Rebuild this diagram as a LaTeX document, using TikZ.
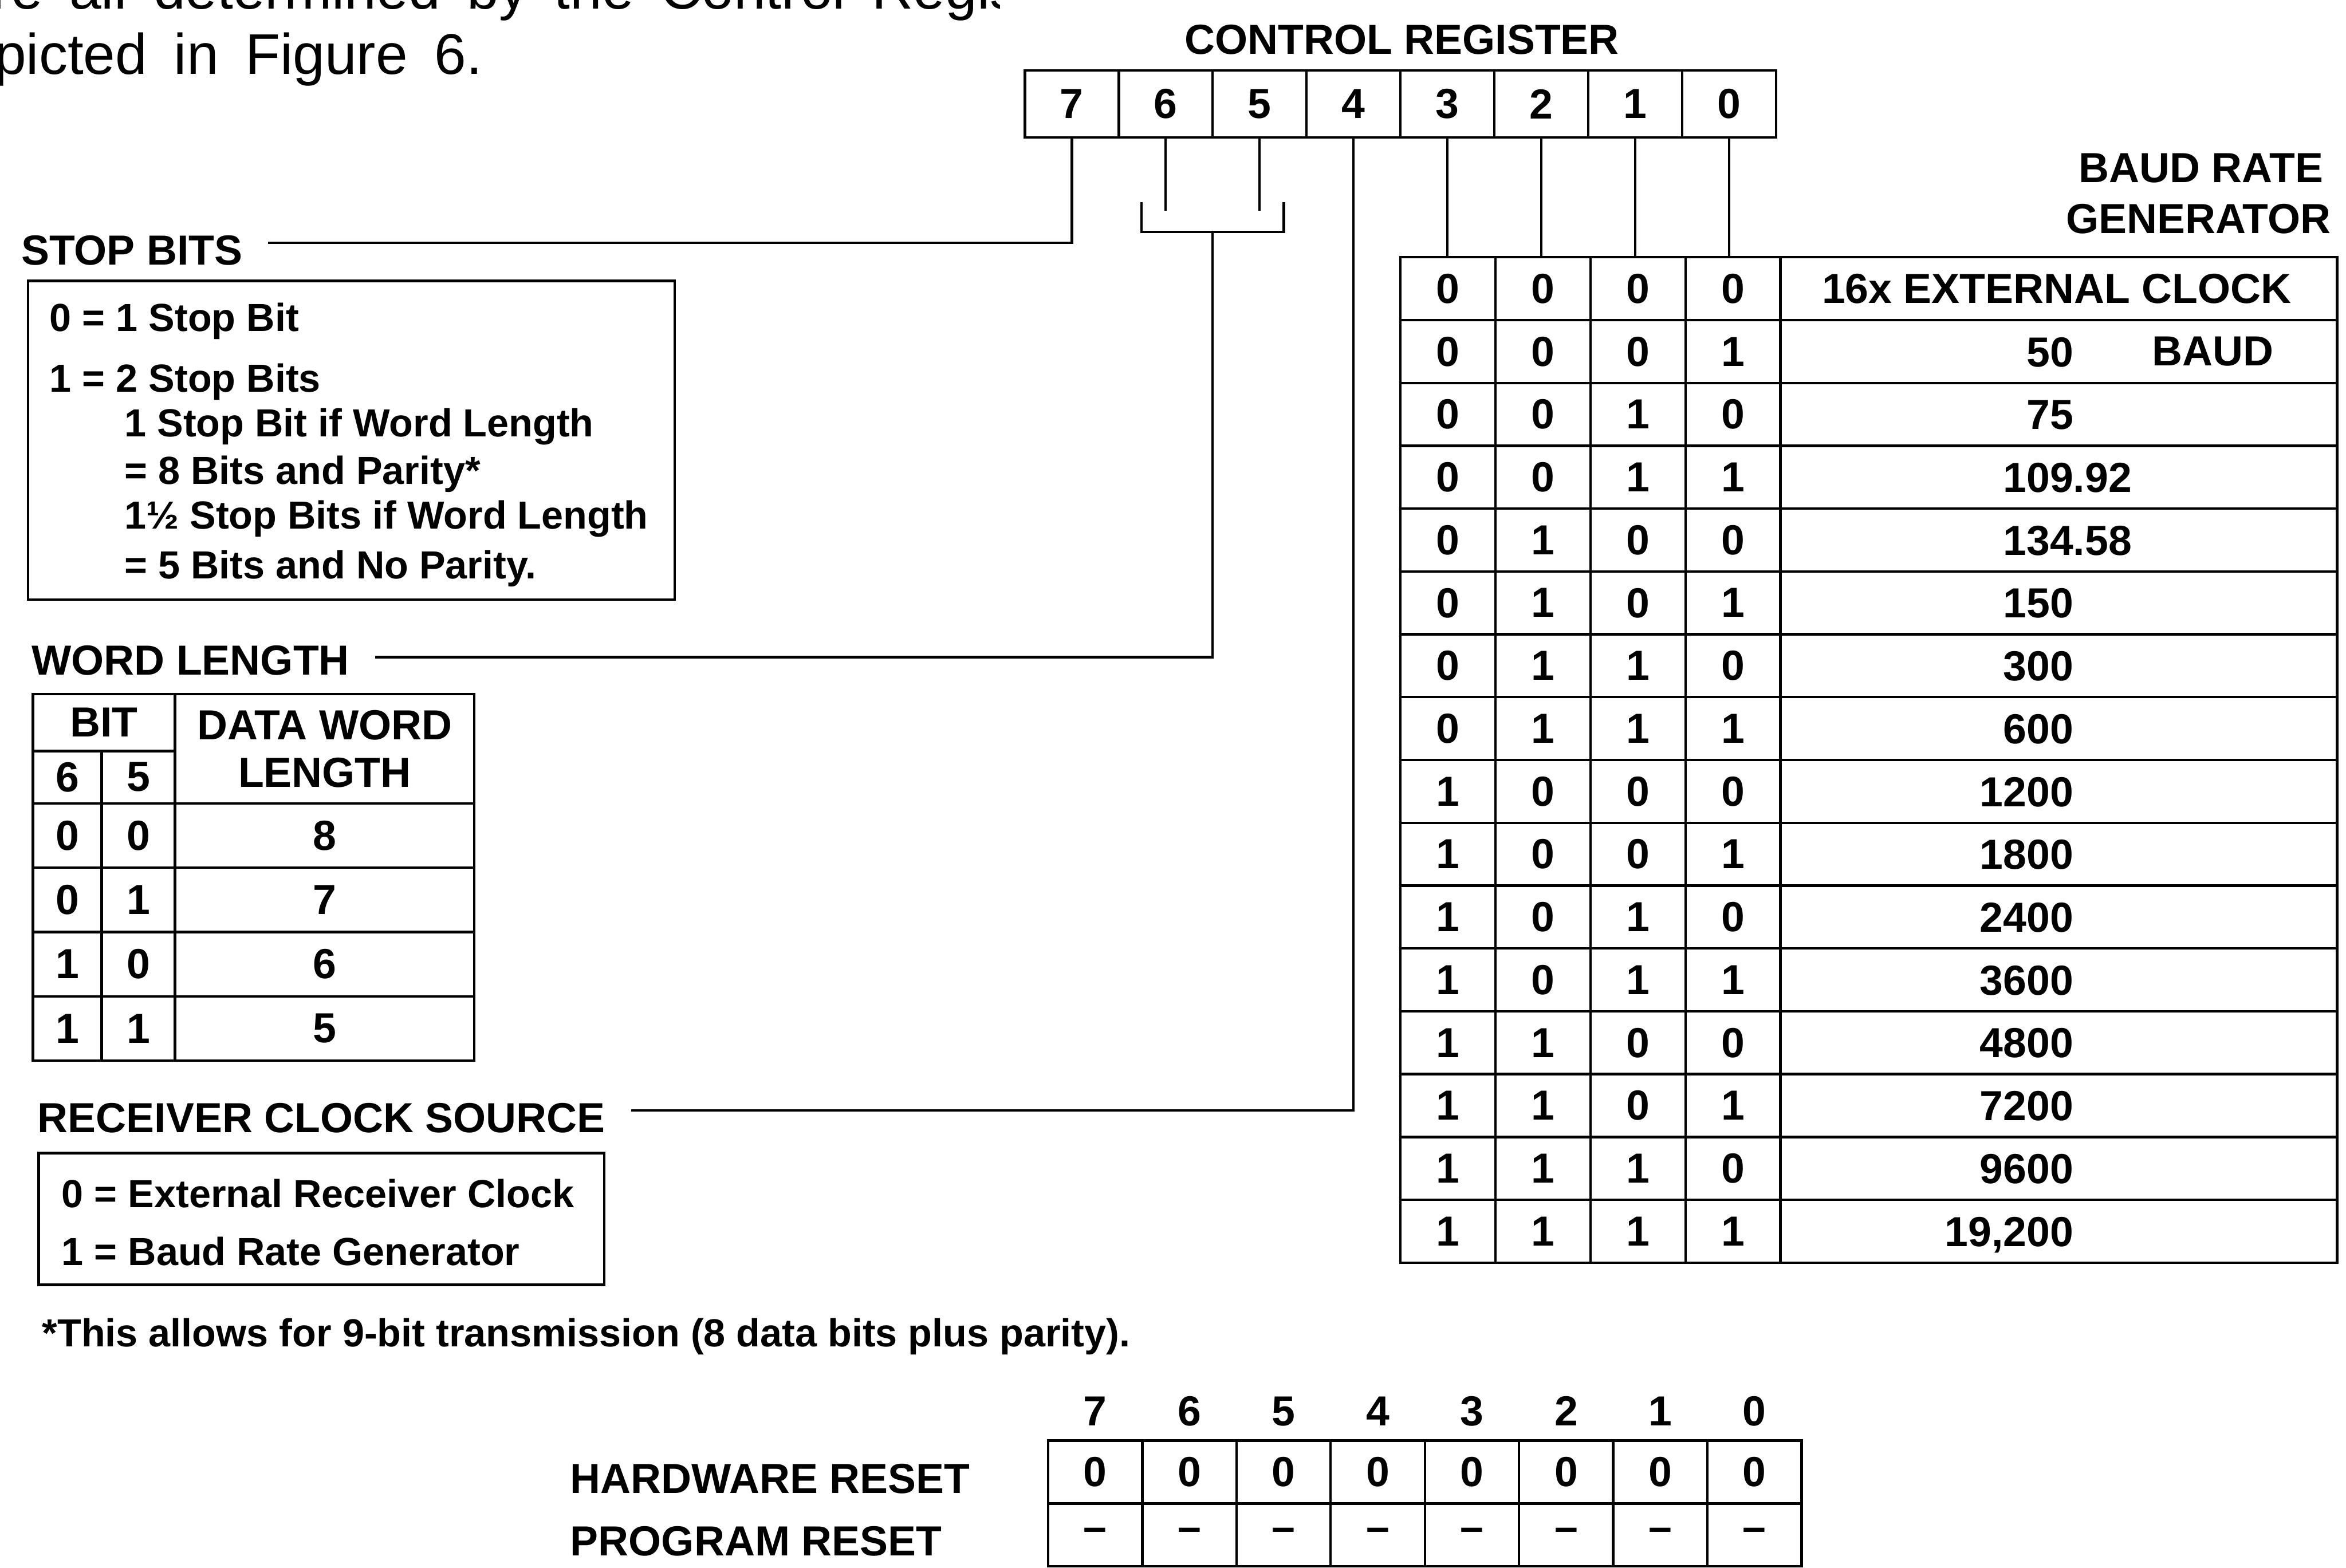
\documentclass[tikz,border=0pt]{standalone}
\usepackage{fontspec}
\setmainfont{Liberation Sans}
\usetikzlibrary{calc}
\newlength\uu \setlength\uu{0.027526cm}
\newcommand\fB{\fontsize{22}{25}\selectfont\bfseries}
\newcommand\fL{\fontsize{20.5}{24}\selectfont\bfseries}
\newcommand\fT{\fontsize{30}{35}\selectfont\spaceskip=14pt plus 0pt minus 0pt\relax}
\tikzset{
  wire/.style={line width=1.3pt},
  lbl/.style={inner sep=0pt, font=\fB},
  txt/.style={inner sep=0pt, font=\fL, anchor=base west},
  toptxt/.style={inner sep=0pt, font=\fT},
  cellbase/.style={draw, line width=1.3pt, inner sep=0pt, font=\fB},
  regcell/.style={cellbase, minimum width=62.75\uu, minimum height=45\uu},
  baudcell/.style={cellbase, minimum width=63.5\uu, minimum height=42\uu},
  ratecell/.style={cellbase, minimum width=372\uu, minimum height=42\uu},
  hwcell/.style={cellbase, minimum width=62.95\uu, minimum height=42\uu},
  prcell/.style={cellbase, minimum width=62.95\uu, minimum height=42\uu},
  framebox/.style={draw, line width=1.3pt, inner sep=0pt, anchor=north west},
}
\begin{document}
\begin{tikzpicture}[x=0.027526cm, y=-0.027526cm]
\useasboundingbox (0,0) rectangle (1568,1048);
\clip (0,0) rectangle (1568,1048);
\fill[white] (0,0) rectangle (1568,1048);

% running text of the page (cut off)
\begin{scope}
\clip (0,0) rectangle (668,80);
\node[toptxt, anchor=base west] (t1) at (-27,6) {are all determined by the Control Register};
\end{scope}
\node[toptxt, anchor=base west] (t2) at (-4,49.7) {picted in Figure 6.};

% control register
\node[lbl, anchor=base] (ctl) at (937,36) {CONTROL REGISTER};
\foreach \b in {7,...,0}
  \node[regcell] (r\b) at ({685+62.75*(7.5-\b)},69.5) {\b};

% labels
\node[lbl, anchor=base west] (sb) at (14,177) {STOP BITS};
\node[lbl, anchor=base west] (wl) at (21,451) {WORD LENGTH};
\node[lbl, anchor=base west] (rc) at (25,757) {RECEIVER CLOCK SOURCE};
\node[lbl, anchor=base east] (brg1) at (1553,122) {BAUD RATE};
\node[lbl, anchor=base east] (brg2) at (1558,156) {GENERATOR};

% stop bits box
\node[framebox, minimum width=432\uu, minimum height=213\uu] (sbbox) at (18,187) {};
\node[txt] (s1) at (33,221.5) {0 = 1 Stop Bit};
\node[txt] (s2) at (33,262) {1 = 2 Stop Bits};
\node[txt] (s3) at (83,292) {1 Stop Bit if Word Length};
\node[txt] (s4) at (83,323.5) {= 8 Bits and Parity*};
\node[txt] (s5) at (83,353.5) {1½ Stop Bits if Word Length};
\node[txt] (s6) at (83,387) {= 5 Bits and No Parity.};

% word length table
\node[cellbase, minimum width=95\uu, minimum height=38\uu] (wbit) at (69.5,483) {BIT};
\node[cellbase, minimum width=46\uu, minimum height=35\uu] (w6) at (45,519.5) {6};
\node[cellbase, minimum width=49\uu, minimum height=35\uu] (w5) at (92.5,519.5) {5};
\node[cellbase, minimum width=200\uu, minimum height=73\uu, align=center] (wdl) at (217,500.5) {DATA WORD\\LENGTH};
\foreach \i/\a/\b/\n in {0/0/0/8,1/0/1/7,2/1/0/6,3/1/1/5} {
  \node[cellbase, minimum width=46\uu, minimum height=43\uu] (wa\i) at (45,{558.5+43*\i}) {\a};
  \node[cellbase, minimum width=49\uu, minimum height=43\uu] (wb\i) at (92.5,{558.5+43*\i}) {\b};
  \node[cellbase, minimum width=200\uu, minimum height=43\uu] (wn\i) at (217,{558.5+43*\i}) {\n};
}

% receiver clock box
\node[framebox, minimum width=378\uu, minimum height=88\uu] (rcbox) at (25,770) {};
\node[txt] (c1) at (41,807) {0 = External Receiver Clock};
\node[txt] (c2) at (41,846) {1 = Baud Rate Generator};

% footnote
\node[txt] (fn) at (28,900) {*This allows for 9-bit transmission (8 data bits plus parity).};

% baud rate table
\foreach \r in {0,...,15} {
  \pgfmathtruncatemacro\bA{floor(\r/8)}
  \pgfmathtruncatemacro\bB{mod(floor(\r/4),2)}
  \pgfmathtruncatemacro\bC{mod(floor(\r/2),2)}
  \pgfmathtruncatemacro\bD{mod(\r,2)}
  \node[baudcell] (bt\r-1) at (967.75,{193+42*\r}) {\bA};
  \node[baudcell] (bt\r-2) at (1031.25,{193+42*\r}) {\bB};
  \node[baudcell] (bt\r-3) at (1094.75,{193+42*\r}) {\bC};
  \node[baudcell] (bt\r-4) at (1158.25,{193+42*\r}) {\bD};
  \node[ratecell] (rate\r) at (1376,{193+42*\r}) {};
}
\node[lbl] (ext) at (1374.6,193) {16x EXTERNAL CLOCK};
\foreach \r/\t in {1/50,2/75,3/109\rlap{.92},4/134\rlap{.58},5/150,6/300,7/600,8/1200,9/1800,10/2400,11/3600,12/4800,13/7200,14/9600,15/{19,200}}
  \node[lbl, anchor=base east] (val\r) at (1386,{203+42*\r}) {\t};
\node[lbl] (baud) at (1479,235) {BAUD};

% connectors from the control register
\draw[wire] (r7.south) |- ($(sb.east)+(17,-5)$);
\coordinate (bkL) at (763,135);
\coordinate (bkLb) at (763,155);
\coordinate (bkRb) at (858,155);
\coordinate (bkR) at (858,135);
\coordinate (bkM) at (810.5,155);
\draw[wire] (bkL) -- (bkLb) -- (bkRb) -- (bkR);
\draw[wire] (r6.south) -- ++(0,48);
\draw[wire] (r5.south) -- ++(0,48);
\draw[wire] (bkM) |- ($(wl.east)+(17,-2)$);
\draw[wire] (r4.south) |- ($(rc.east)+(17,-5)$);
\foreach \b/\c in {3/1,2/2,1/3,0/4}
  \draw[wire] (r\b.south) -- (r\b.south |- bt0-\c.north);

% reset table
\node[lbl, anchor=base west] (hw) at (381,998) {HARDWARE RESET};
\node[lbl, anchor=base west] (pr) at (381,1040) {PROGRAM RESET};
\foreach \b in {7,...,0} {
  \node[lbl, anchor=base] (n\b) at ({732+62.95*(7-\b)},953) {\b};
  \node[hwcell] (h\b) at ({732+62.95*(7-\b)},984) {0};
  \node[prcell] (p\b) at ({732+62.95*(7-\b)},1026) {–};
}
\end{tikzpicture}
\end{document}
